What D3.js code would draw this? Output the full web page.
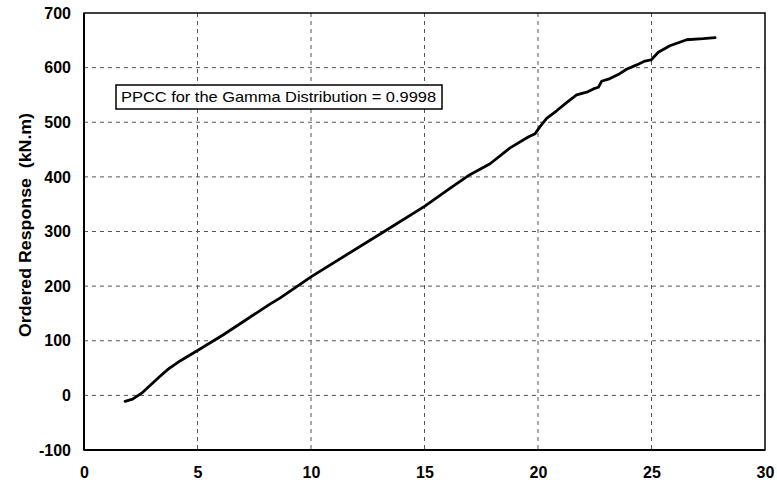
<!DOCTYPE html>
<html><head><meta charset="utf-8">
<script src="https://cdn.jsdelivr.net/npm/d3@7"></script>
<style>body{margin:0;background:#fff}svg{display:block}</style>
</head><body>
<svg id="c" width="777" height="485"></svg>
<script>
const xTicks = [0,5,10,15,20,25,30];
const yTicks = [-100,0,100,200,300,400,500,600,700];
const quantile = [1.81,2.14,2.54,3.35,3.71,4.23,5.04,6.14,8.19,8.63,10.0,13.26,15.0,16.12,17.0,17.89,18.77,19.57,19.87,20.09,20.38,20.82,21.26,21.7,22.15,22.44,22.66,22.8,23.17,23.6,23.9,24.35,24.71,24.98,25.3,25.81,26.55,27.28,27.8];
const response = [-11,-7,4,35,48,63,83,111,167,178,217,301,346,379,404,424,453,473,479,492,507,521,536,550,555,561,564,575,580,589,597,605,612,614,628,640,651,653,655];
const yTitle = "Ordered Response  (kN.m)";
const note = "PPCC for the Gamma Distribution = 0.9998";

const svg = d3.select("#c");
const m = {l:84, r:12, t:13, b:35};
const W = 777, H = 485;
const x = d3.scaleLinear().domain([0,30]).range([m.l, W-m.r]);
const y = d3.scaleLinear().domain([-100,700]).range([H-m.b, m.t]);
const font = "Liberation Sans, Arial, sans-serif";

// gridlines
svg.append("g").selectAll("line").data(xTicks.filter(d=>d>0&&d<30)).join("line")
  .attr("x1",d=>x(d)).attr("x2",d=>x(d)).attr("y1",y(700)).attr("y2",y(-100))
  .attr("stroke","#555").attr("stroke-width",1).attr("stroke-dasharray","4,4");
svg.append("g").selectAll("line").data(yTicks.filter(d=>d>-100&&d<700)).join("line")
  .attr("y1",d=>y(d)).attr("y2",d=>y(d)).attr("x1",x(0)).attr("x2",x(30))
  .attr("stroke","#555").attr("stroke-width",1).attr("stroke-dasharray","4,4");

// frame
svg.append("rect").attr("x",x(0)).attr("y",y(700)).attr("width",x(30)-x(0)).attr("height",y(-100)-y(700))
  .attr("fill","none").attr("stroke","#000").attr("stroke-width",1.5);
svg.append("line").attr("x1",x(0)).attr("x2",x(0)).attr("y1",y(700)).attr("y2",y(-100)).attr("stroke","#000").attr("stroke-width",2);
svg.append("line").attr("x1",x(0)).attr("x2",x(30)).attr("y1",y(-100)).attr("y2",y(-100)).attr("stroke","#000").attr("stroke-width",2);

// axes labels via d3 axes
const ax = svg.append("g").attr("transform",`translate(0,${y(-100)})`)
  .call(d3.axisBottom(x).tickValues(xTicks).tickSize(0).tickPadding(17).tickFormat(d=>String(d)));
ax.select(".domain").remove();
ax.selectAll("text").attr("font-family",font).attr("font-size",16).attr("font-weight","bold").attr("fill","#000");
const ay = svg.append("g").attr("transform",`translate(${x(0)},0)`)
  .call(d3.axisLeft(y).tickValues(yTicks).tickSize(0).tickPadding(13).tickFormat(d=>String(d)));
ay.select(".domain").remove();
ay.selectAll("text").attr("font-family",font).attr("font-size",16).attr("font-weight","bold").attr("fill","#000");

// y title
svg.append("text").attr("transform",`translate(31,225) rotate(-90)`).attr("text-anchor","middle")
  .attr("font-family",font).attr("font-size",16).attr("font-weight","bold")
  .style("white-space","pre").attr("textLength",224).attr("lengthAdjust","spacingAndGlyphs").text(yTitle);

// data line
const data = quantile.map((q,i)=>({q, r:response[i]}));
svg.append("path").datum(data)
  .attr("d", d3.line().x(d=>x(d.q)).y(d=>y(d.r)))
  .attr("fill","none").attr("stroke","#000").attr("stroke-width",2.8).attr("stroke-linejoin","round").attr("stroke-linecap","round");

// annotation box
svg.append("rect").attr("x",116).attr("y",85).attr("width",326).attr("height",24)
  .attr("fill","#fff").attr("stroke","#000").attr("stroke-width",1.5);
svg.append("text").attr("x",121).attr("y",102)
  .attr("font-family",font).attr("font-size",15)
  .attr("textLength",315).attr("lengthAdjust","spacingAndGlyphs").text(note);
</script>
</body></html>
